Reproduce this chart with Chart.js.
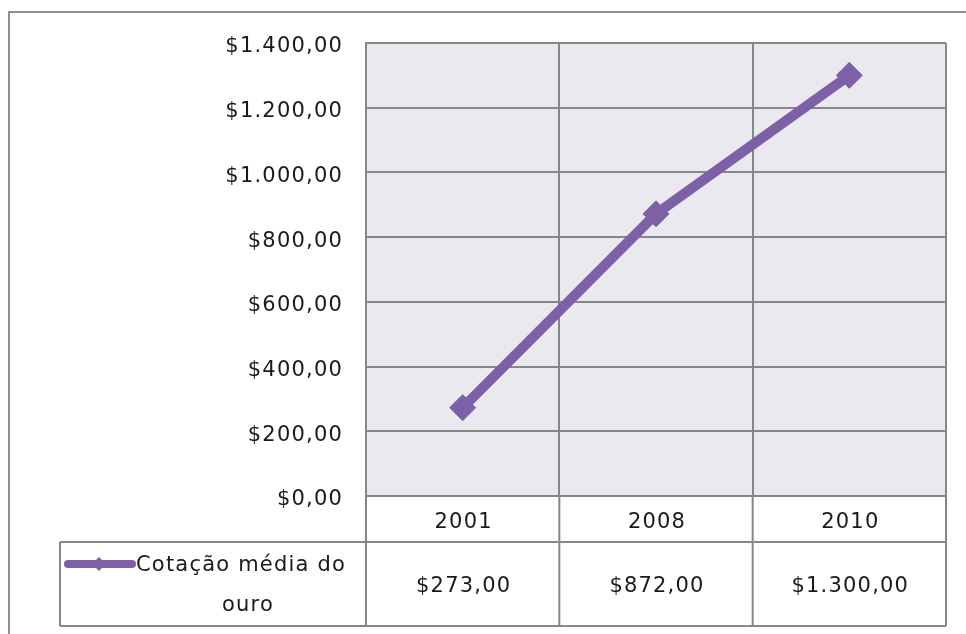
<!DOCTYPE html>
<html lang="pt">
<head>
  <meta charset="UTF-8">
  <title>Cotação média do ouro</title>
  <script src="https://cdn.jsdelivr.net/npm/chart.js"></script>
  <style>
    body {
      margin: 0;
      background: #fff;
    }
    .grafico {
      width: 966px;
      height: 634px;
    }
  </style>
</head>
<body>
<div class="grafico">
  <canvas id="ouroChart" width="966" height="634"></canvas>
</div>

<script>
  // dados da série
  const anos = ['2001', '2008', '2010'];
  const cotacao = [273, 872, 1300];
  const serieNome = ['Cotação média do', 'ouro'];

  // eixo dos valores
  const eixoMin = 0;
  const eixoMax = 1400;
  const eixoPasso = 200;

  const roxo = '#7d60a6';
  const cinzaLinha = '#878787';
  const corTexto = '#1a1a1a';
  const fonte = '"DejaVu Sans", sans-serif';
  const tamFonte = 21;
  const espaco = '1.2px';

  // formato monetário "$1.300,00"
  function moeda(v) {
    const partes = Number(v).toFixed(2).split('.');
    const inteiro = partes[0].replace(/\B(?=(\d{3})+(?!\d))/g, '.');
    return '$' + inteiro + ',' + partes[1];
  }

  // borda externa, fundo da área do gráfico e espaçamento das letras
  const fundoPlugin = {
    id: 'fundo',
    beforeDraw(chart) {
      const { ctx, chartArea: a } = chart;
      ctx.save();
      ctx.strokeStyle = '#8f8f8f';
      ctx.lineWidth = 2;
      ctx.strokeRect(9, 12, 1000, 1000);
      ctx.fillStyle = '#eae9ef';
      ctx.fillRect(a.left, a.top, a.right - a.left, a.bottom - a.top);
      ctx.restore();
      ctx.letterSpacing = espaco;
    }
  };

  // tabela de dados embaixo do gráfico
  const tabelaPlugin = {
    id: 'tabela',
    afterDraw(chart) {
      const { ctx, chartArea: a } = chart;
      const x = chart.scales.x;
      const n = anos.length;
      const colW = (a.right - a.left) / n;
      const linha1 = a.bottom + 46;
      const fim = a.bottom + 130;
      const legX = 60;

      ctx.save();
      ctx.letterSpacing = espaco;
      ctx.strokeStyle = cinzaLinha;
      ctx.lineWidth = 2;
      ctx.beginPath();
      // linhas horizontais
      ctx.moveTo(legX, linha1); ctx.lineTo(a.right, linha1);
      ctx.moveTo(legX, fim); ctx.lineTo(a.right, fim);
      // verticais das colunas
      for (let i = 0; i <= n; i++) {
        const cx = a.left + i * colW;
        ctx.moveTo(cx, a.bottom); ctx.lineTo(cx, fim);
      }
      ctx.moveTo(legX, linha1); ctx.lineTo(legX, fim);
      ctx.stroke();

      ctx.fillStyle = corTexto;
      ctx.font = tamFonte + 'px ' + fonte;
      ctx.textAlign = 'center';
      ctx.textBaseline = 'middle';
      anos.forEach((ano, i) => {
        const cx = x.getPixelForValue(i);
        ctx.fillText(ano, cx + 1, a.bottom + 27);
        ctx.fillText(moeda(cotacao[i]), cx + 1, (linha1 + fim) / 2 + 3);
      });

      // chave da legenda
      const ly = linha1 + 22;
      ctx.strokeStyle = roxo;
      ctx.lineWidth = 8;
      ctx.lineCap = 'round';
      ctx.beginPath();
      ctx.moveTo(68, ly); ctx.lineTo(132, ly);
      ctx.stroke();
      ctx.fillStyle = roxo;
      ctx.beginPath();
      ctx.moveTo(99, ly - 7); ctx.lineTo(106, ly); ctx.lineTo(99, ly + 7); ctx.lineTo(92, ly);
      ctx.closePath();
      ctx.fill();

      ctx.fillStyle = corTexto;
      ctx.textAlign = 'left';
      ctx.fillText(serieNome[0], 136, ly + 2);
      ctx.textAlign = 'center';
      ctx.fillText(serieNome[1], 248, ly + 42);
      ctx.restore();
    }
  };

  new Chart(document.getElementById('ouroChart'), {
    type: 'line',
    data: {
      labels: anos,
      datasets: [{
        label: serieNome.join(' '),
        data: cotacao,
        borderColor: roxo,
        backgroundColor: roxo,
        borderWidth: 10,
        tension: 0,
        pointStyle: 'rectRot',
        pointRadius: 13,
        pointBorderWidth: 1,
        pointBackgroundColor: roxo,
        pointBorderColor: roxo
      }]
    },
    options: {
      responsive: false,
      animation: false,
      layout: { padding: { left: 0, top: 43, right: 20, bottom: 138 } },
      plugins: {
        legend: { display: false },
        tooltip: { enabled: false }
      },
      scales: {
        x: {
          offset: true,
          grid: { offset: true, color: cinzaLinha, lineWidth: 2, drawTicks: false },
          border: { color: cinzaLinha, width: 2 },
          ticks: { display: false },
          afterFit(s) { s.height = 0; }
        },
        y: {
          min: eixoMin,
          max: eixoMax,
          grid: { color: cinzaLinha, lineWidth: 2, drawTicks: false },
          border: { color: cinzaLinha, width: 2 },
          ticks: {
            stepSize: eixoPasso,
            padding: 23,
            labelOffset: 4,
            color: corTexto,
            font: { family: fonte, size: tamFonte },
            callback: v => moeda(v)
          },
          afterFit(s) { s.width = 366; }
        }
      }
    },
    plugins: [fundoPlugin, tabelaPlugin]
  });
</script>
</body>
</html>
